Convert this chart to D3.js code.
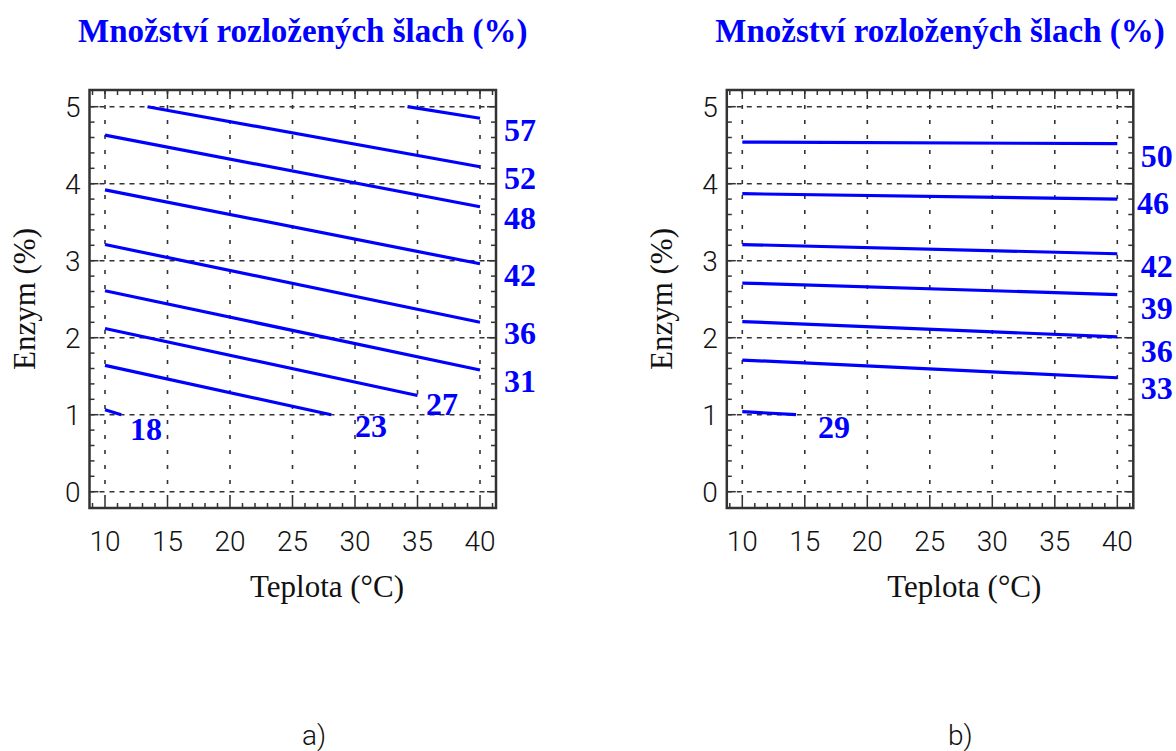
<!DOCTYPE html>
<html>
<head>
<meta charset="utf-8">
<script src="https://cdn.jsdelivr.net/npm/d3@7"></script>
<style>
  html, body { margin: 0; padding: 0; background: #fff; }
  svg { display: block; }
</style>
</head>
<body>
<svg id="chart" width="1176" height="751"></svg>
<script>
// Shared axes
const titleText = "Množství rozložených šlach (%)";
const xLabel = "Teplota (°C)";
const yLabel = "Enzym (%)";
const tempTicks = [10, 15, 20, 25, 30, 35, 40];
const enzymeTicks = [0, 1, 2, 3, 4, 5];
const panelNames = ["a)", "b)"];

// Panel a): contour lines (level, [temperature, enzyme] end points)
const levelsA = [57, 52, 48, 42, 36, 31, 27, 23, 18];
const linesA = [
  [[34.2, 5.00], [40, 4.85]],
  [[13.4, 5.00], [40, 4.22]],
  [[10, 4.63], [40, 3.70]],
  [[10, 3.92], [40, 2.96]],
  [[10, 3.21], [40, 2.20]],
  [[10, 2.61], [40, 1.58]],
  [[10, 2.12], [35, 1.25]],
  [[10, 1.64], [28.1, 1.00]],
  [[10, 1.065], [11.3, 1.00]]
];
// label anchors in data units (temperature, enzyme)
const labelPosA = [
  [41.92, 4.55], [41.92, 3.93], [41.92, 3.41], [41.92, 2.67], [41.92, 1.92],
  [41.92, 1.29], [35.68, 1.00], [30.0, 0.71], [12.0, 0.67]
];

// Panel b)
const levelsB = [50, 46, 42, 39, 36, 33, 29];
const linesB = [
  [[10, 4.54], [40, 4.52]],
  [[10, 3.87], [40, 3.80]],
  [[10, 3.21], [40, 3.09]],
  [[10, 2.71], [40, 2.56]],
  [[10, 2.21], [40, 2.01]],
  [[10, 1.71], [40, 1.48]],
  [[10, 1.04], [14.3, 1.00]]
];
const labelPosB = [
  [41.87, 4.22], [41.58, 3.61], [41.87, 2.79], [41.87, 2.24], [41.87, 1.69],
  [41.87, 1.20], [16.06, 0.70]
];

const panels = [
  { name: panelNames[0], levels: levelsA, lines: linesA, labels: labelPosA, dx: 0, capX: 314 },
  { name: panelNames[1], levels: levelsB, lines: linesB, labels: labelPosB, dx: 637.3, capX: 323 }
];

const svg = d3.select("#chart");
const blue = "#0000ff";
const serif = "'Liberation Serif', 'Times New Roman', serif";
const thin = "Roboto, 'Liberation Sans', Arial, sans-serif";

// plot frame (pixels, per panel before offset)
const frame = { left: 89.5, right: 496, top: 90, bottom: 508 };

const x = d3.scaleLinear().domain([10, 40]).range([105, 480]);
const y = d3.scaleLinear().domain([0, 5]).range([491.7, 106.7]);

const xMin = x.invert(frame.left), xMax = x.invert(frame.right);

const minorX = d3.range(Math.ceil(xMin), Math.floor(xMax) + 1).filter(v => v % 5 !== 0);
const minorY = d3.range(0, 5.01, 0.2).map(v => +v.toFixed(1)).filter(v => Math.abs(v - Math.round(v)) > 1e-6);

panels.forEach(p => {
  const g = svg.append("g").attr("transform", `translate(${p.dx},0)`);

  // title
  g.append("text")
    .attr("x", (frame.left + frame.right) / 2 + 10)
    .attr("y", 42)
    .attr("text-anchor", "middle")
    .attr("font-family", serif)
    .attr("font-weight", "bold")
    .attr("font-size", 33)
    .attr("fill", blue)
    .text(titleText);

  // grid
  const grid = g.append("g").attr("stroke", "#333").attr("stroke-width", 1.6);
  grid.selectAll("line.h").data(enzymeTicks).join("line")
    .attr("x1", frame.left).attr("x2", frame.right)
    .attr("y1", d => y(d)).attr("y2", d => y(d))
    .attr("stroke-dasharray", "5,5");
  grid.selectAll("line.v").data(tempTicks).join("line")
    .attr("y1", frame.top).attr("y2", frame.bottom)
    .attr("x1", d => x(d)).attr("x2", d => x(d))
    .attr("stroke-dasharray", "4,11");

  // contour lines
  const line = d3.line().x(d => x(d[0])).y(d => y(d[1]));
  g.append("g").selectAll("path").data(p.lines).join("path")
    .attr("d", line)
    .attr("fill", "none")
    .attr("stroke", blue)
    .attr("stroke-width", 3.2);

  // contour labels
  g.append("g").selectAll("text").data(p.levels).join("text")
    .attr("x", (d, i) => x(p.labels[i][0]))
    .attr("y", (d, i) => y(p.labels[i][1]))
    .attr("font-family", serif)
    .attr("font-weight", "bold")
    .attr("font-size", 32)
    .attr("fill", blue)
    .text(d => d);

  // frame
  g.append("rect")
    .attr("x", frame.left).attr("y", frame.top)
    .attr("width", frame.right - frame.left)
    .attr("height", frame.bottom - frame.top)
    .attr("fill", "none")
    .attr("stroke", "#333")
    .attr("stroke-width", 2.5);

  // inward ticks on all four sides
  const ticks = g.append("g").attr("stroke", "#333").attr("stroke-width", 1.5);
  [{ vals: tempTicks, len: 9 }, { vals: minorX, len: 5 }].forEach(s => {
    ticks.append("g").selectAll("line").data(s.vals).join("line")
      .attr("x1", d => x(d)).attr("x2", d => x(d))
      .attr("y1", frame.bottom).attr("y2", frame.bottom - s.len);
    ticks.append("g").selectAll("line").data(s.vals).join("line")
      .attr("x1", d => x(d)).attr("x2", d => x(d))
      .attr("y1", frame.top).attr("y2", frame.top + s.len);
  });
  [{ vals: enzymeTicks, len: 9 }, { vals: minorY, len: 5 }].forEach(s => {
    ticks.append("g").selectAll("line").data(s.vals).join("line")
      .attr("y1", d => y(d)).attr("y2", d => y(d))
      .attr("x1", frame.left).attr("x2", frame.left + s.len);
    ticks.append("g").selectAll("line").data(s.vals).join("line")
      .attr("y1", d => y(d)).attr("y2", d => y(d))
      .attr("x1", frame.right).attr("x2", frame.right - s.len);
  });

  // tick labels
  g.append("g").selectAll("text").data(tempTicks).join("text")
    .attr("x", d => x(d))
    .attr("y", 551)
    .attr("text-anchor", "middle")
    .attr("font-family", thin)
    .attr("font-weight", 300)
    .attr("font-size", 28)
    .attr("fill", "#111")
    .text(d => d);
  g.append("g").selectAll("text").data(enzymeTicks).join("text")
    .attr("x", frame.left - 9)
    .attr("y", d => y(d))
    .attr("dy", "0.36em")
    .attr("text-anchor", "end")
    .attr("font-family", thin)
    .attr("font-weight", 300)
    .attr("font-size", 28)
    .attr("fill", "#111")
    .text(d => d);

  // axis titles
  g.append("text")
    .attr("x", 327)
    .attr("y", 597)
    .attr("text-anchor", "middle")
    .attr("font-family", serif)
    .attr("font-size", 31)
    .attr("fill", "#111")
    .text(xLabel);
  g.append("text")
    .attr("transform", `translate(35,${(frame.top + frame.bottom) / 2}) rotate(-90)`)
    .attr("text-anchor", "middle")
    .attr("font-family", serif)
    .attr("font-size", 31)
    .attr("fill", "#111")
    .text(yLabel);

  // panel caption
  g.append("text")
    .attr("x", p.capX)
    .attr("y", 745)
    .attr("text-anchor", "middle")
    .attr("font-family", thin)
    .attr("font-weight", 300)
    .attr("font-size", 28)
    .attr("fill", "#111")
    .text(p.name);
});
</script>
</body>
</html>
